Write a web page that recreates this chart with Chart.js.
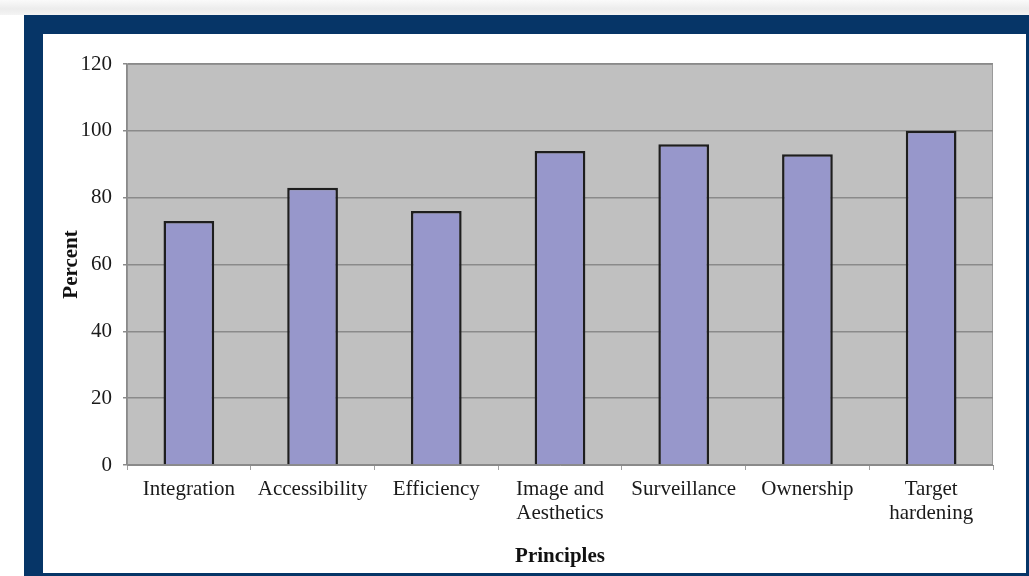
<!DOCTYPE html>
<html>
<head>
<meta charset="utf-8">
<script src="https://cdn.jsdelivr.net/npm/chart.js@4"></script>
<style>
  body { margin: 0; width: 1029px; height: 576px; overflow: hidden; background: #fff; position: relative; }
  #strip { position: absolute; left: 0; top: 0; width: 1029px; height: 15px;
           background: linear-gradient(#fafafa, #ececec 60%, #f4f4f4); }
  #frame { position: absolute; left: 24px; top: 15px; width: 1020px; height: 580px; background: #063567; }
  #panel { position: absolute; left: 43px; top: 34px; width: 983px; height: 539px; background: #fff; }
</style>
</head>
<body>
<div id="strip"></div>
<div id="frame"></div>
<div id="panel"><canvas id="barChart" width="983" height="539"></canvas></div>
<script>
// Percent of sites meeting each principle
const principles = ['Integration', 'Accessibility', 'Efficiency', ['Image and', 'Aesthetics'],
                    'Surveillance', 'Ownership', ['Target', 'hardening']];
const percentValues = [73, 83, 76, 94, 96, 93, 100];
const yTicks = [0, 20, 40, 60, 80, 100, 120];

const serif = '"Liberation Serif", "Times New Roman", serif';

// grey plot background like the old spreadsheet chart
const plotBackground = {
    id: 'plotBackground',
    beforeDraw(chart) {
        const { ctx, chartArea } = chart;
        ctx.save();
        ctx.fillStyle = '#c0c0c0';
        ctx.fillRect(chartArea.left, chartArea.top, chartArea.right - chartArea.left, chartArea.bottom - chartArea.top);
        ctx.strokeStyle = '#9a9a9a';
        ctx.lineWidth = 1;
        ctx.strokeRect(chartArea.left + 0.5, chartArea.top + 0.5, chartArea.right - chartArea.left - 1, chartArea.bottom - chartArea.top - 1);
        ctx.restore();
    }
};

const ctx = document.getElementById('barChart').getContext('2d');
new Chart(ctx, {
    type: 'bar',
    data: {
        labels: principles,
        datasets: [{
            data: percentValues,
            backgroundColor: '#9797cb',
            borderColor: '#1e1e1e',
            borderWidth: 2.5,
            categoryPercentage: 1,
            barPercentage: 0.41
        }]
    },
    options: {
        responsive: false,
        animation: false,
        layout: { padding: { top: 30, right: 33, left: 0, bottom: 0 } },
        plugins: { legend: { display: false }, tooltip: { enabled: false } },
        scales: {
            x: {
                afterFit: s => { s.height = 108; },
                grid: { offset: true, drawOnChartArea: false, color: '#a0a0a0', tickLength: 5 },
                border: { color: '#8a8a8a', width: 1 },
                ticks: { color: '#1a1a1a', font: { family: serif, size: 21, lineHeight: 1.15 }, padding: 7, maxRotation: 0, autoSkip: false },
                title: { display: true, text: 'Principles', color: '#111', font: { family: serif, size: 21, weight: 'bold' }, padding: { top: 6 } }
            },
            y: {
                min: 0, max: 120,
                afterFit: s => { s.width = 84; },
                afterBuildTicks: s => { s.ticks = yTicks.map(v => ({ value: v })); },
                grid: { color: '#8a8a8a', lineWidth: 1.5, tickLength: 4 },
                border: { color: '#8a8a8a', width: 1.5 },
                ticks: { color: '#1a1a1a', font: { family: serif, size: 21 }, padding: 11 },
                title: { display: true, text: 'Percent', color: '#111', font: { family: serif, size: 21, weight: 'bold' }, padding: { top: 16, bottom: 0 } }
            }
        }
    },
    plugins: [plotBackground]
});
</script>
</body>
</html>
